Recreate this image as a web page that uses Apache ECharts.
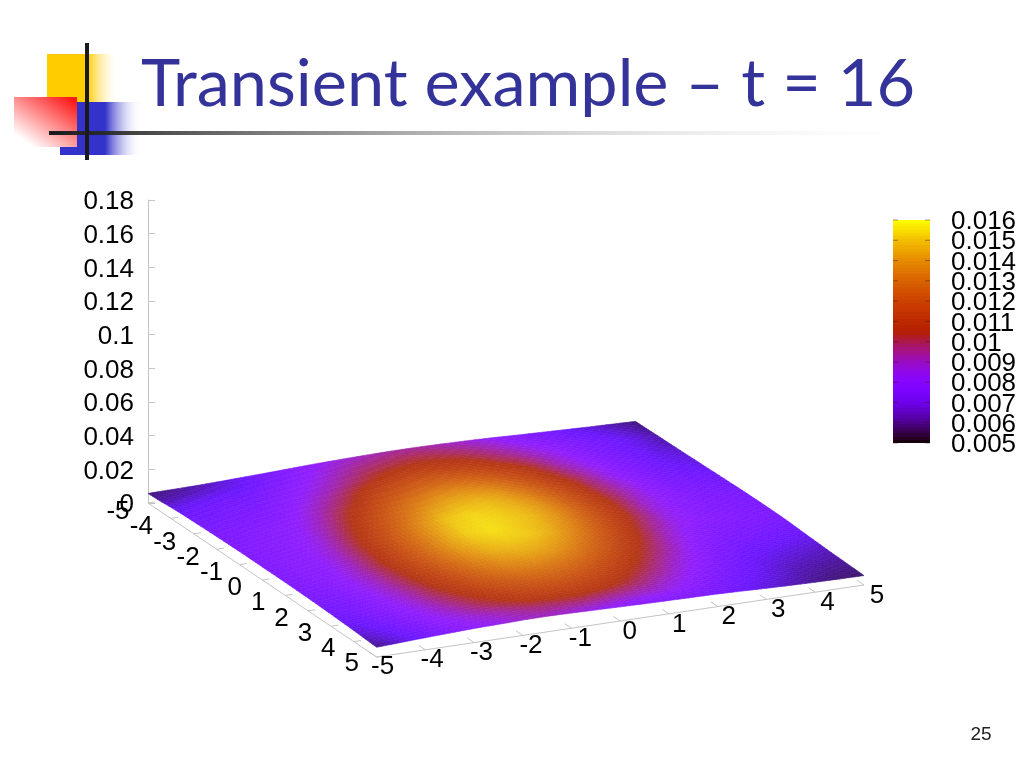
<!DOCTYPE html>
<html>
<head>
<meta charset="utf-8">
<style>html,body{margin:0;padding:0;background:#fff}#c{width:1024px;height:768px}</style>
<script src="https://cdn.jsdelivr.net/npm/echarts@6/dist/echarts.min.js"></script>
</head>
<body>
<div id="c"></div>
<script>
var titleText = 'Transient example – t = 16';
var pageNumber = '25';
var zRange = [0, 0.18];
var zInterval = 0.02;
var zTickLabels = ['0','0.02','0.04','0.06','0.08','0.1','0.12','0.14','0.16','0.18'];
var zTickValues = [0,0.02,0.04,0.06,0.08,0.1,0.12,0.14,0.16,0.18];
var colorRange = [0.005, 0.016];
var colorTickLabels = ['0.005','0.006','0.007','0.008','0.009','0.01','0.011','0.012','0.013','0.014','0.015','0.016'];
var colorTickValues = [0.005,0.006,0.007,0.008,0.009,0.01,0.011,0.012,0.013,0.014,0.015,0.016];
var aTicks = [-5,-4,-3,-2,-1,0,1,2,3,4,5];
var bTicks = [-5,-4,-3,-2,-1,0,1,2,3,4,5];
var gridAxis = [-5,-4.5,-4,-3.5,-3,-2.5,-2,-1.5,-1,-0.5,0,0.5,1,1.5,2,2.5,3,3.5,4,4.5,5];
var zUnit = 0.0001;
// surface height; rows run along a, columns along b
var surfaceZ = [
[57,59,61,65,70,75,81,86,90,93,95,95,93,90,86,80,75,70,65,61,57],
[60,62,65,68,72,78,84,90,95,98,100,100,98,95,90,84,78,73,69,64,59],
[66,69,71,72,77,82,88,94,100,103,105,105,103,99,94,88,82,77,72,67,61],
[70,72,74,75,80,86,92,99,105,110,112,111,109,103,98,91,84,77,72,67,62],
[72,74,76,78,83,90,98,106,113,118,120,119,115,109,102,93,86,79,73,68,64],
[74,76,78,80,87,95,103,113,120,125,127,126,121,114,105,96,88,80,74,69,66],
[76,78,80,83,90,100,109,119,127,133,135,133,127,118,108,99,89,81,75,71,68],
[77,79,81,85,94,104,115,125,134,140,141,139,131,122,111,100,91,83,76,73,70],
[78,80,83,87,97,108,119,130,140,145,146,142,135,124,113,101,92,83,77,74,72],
[78,80,83,89,100,111,123,135,146,150,148,144,137,125,113,102,91,84,79,76,74],
[78,81,84,91,102,114,126,138,148,151,149,145,137,125,113,101,90,83,79,77,75],
[78,81,84,92,103,115,127,139,149,152,148,144,135,123,111,100,89,83,79,77,76],
[78,81,84,93,104,116,127,139,146,149,148,142,132,120,108,97,88,83,80,78,76],
[77,80,85,93,103,115,126,136,143,145,143,137,127,116,105,94,85,80,78,77,75],
[76,78,84,92,102,113,123,132,138,140,138,131,122,111,101,91,83,78,76,74,72],
[74,76,83,91,100,110,119,127,132,133,130,124,116,106,97,88,80,75,73,71,68],
[72,76,82,89,98,106,115,121,125,126,123,117,109,101,92,85,77,72,69,67,65],
[69,74,80,87,95,102,109,115,118,118,115,110,103,96,88,81,75,69,66,64,62],
[66,71,78,85,91,98,103,108,110,110,107,103,97,90,84,77,72,67,63,61,60],
[62,68,75,82,87,91,95,98,99,99,96,93,90,86,79,74,69,65,61,59,58],
[58,65,72,78,84,87,91,92,90,87,84,81,79,77,75,71,66,62,59,57,56]
];

// gnuplot default pm3d palette (7,5,15); lift = small green floor seen on the surface
function palette(z, lift) {
  var g = Math.max(0, Math.min(1, (z - colorRange[0]) / (colorRange[1] - colorRange[0])));
  var r = Math.sqrt(g), gg = g * g * g, b = Math.max(0, Math.sin(2 * Math.PI * g));
  return 'rgb(' + Math.round(r * 255) + ',' + Math.min(255, Math.round(gg * 255) + (lift || 0)) + ',' + Math.min(255, Math.round(b * 255) + (lift || 0)) + ')';
}

// orthographic view of (a, b, z) onto the plot's own x (0..1) and z axes
var viewAX = 0.03189, viewBX = 0.06797, viewAZ = -0.00915, viewBZ = 0.00428;
function project(a, b, z) {
  return [(a + 5) * viewAX + (b + 5) * viewBX, z + (a + 5) * viewAZ + (b + 5) * viewBZ];
}

var cells = [];
for (var ci = 0; ci < gridAxis.length - 1; ci++)
  for (var cj = 0; cj < gridAxis.length - 1; cj++) cells.push([ci, cj]);

var SHADE = 5; // render-time smooth shading steps per data cell (like pm3d interpolate)
function renderCell(params, api) {
  var c = cells[params.dataIndex], i = c[0], j = c[1];
  var z00 = surfaceZ[i][j] * zUnit, z01 = surfaceZ[i][j + 1] * zUnit,
      z10 = surfaceZ[i + 1][j] * zUnit, z11 = surfaceZ[i + 1][j + 1] * zUnit;
  var a0 = gridAxis[i], a1 = gridAxis[i + 1], b0 = gridAxis[j], b1 = gridAxis[j + 1];
  function at(u, v) {
    return (z00 * (1 - u) + z10 * u) * (1 - v) + (z01 * (1 - u) + z11 * u) * v;
  }
  function pt(u, v) {
    return api.coord(project(a0 + (a1 - a0) * u, b0 + (b1 - b0) * v, at(u, v)));
  }
  var kids = [];
  for (var m = 0; m < SHADE; m++) for (var n = 0; n < SHADE; n++) {
    var u0 = m / SHADE, u1 = (m + 1) / SHADE, v0 = n / SHADE, v1 = (n + 1) / SHADE;
    var col = palette(at((u0 + u1) / 2, (v0 + v1) / 2), 22);
    kids.push({type: 'polygon', shape: {points: [pt(u0, v0), pt(u1, v0), pt(u1, v1), pt(u0, v1)]},
      style: {fill: col, stroke: col, lineWidth: 0.6}});
  }
  return {type: 'group', children: kids};
}

var axisGray = '#c4c4c4';
var labelFont = '26px "Liberation Sans", Arial, sans-serif';
function labelText(x, y, text, align) {
  return {type: 'text', x: x, y: y, style: {text: text, font: labelFont, fill: '#000', align: align || 'center', verticalAlign: 'middle'}};
}
function renderATick(params, api) {
  var a = aTicks[params.dataIndex];
  var p = api.coord(project(a, -5, 0)), q = api.coord(project(a, -4.85, 0));
  var kids = [{type: 'line', shape: {x1: p[0], y1: p[1], x2: q[0], y2: q[1]}, style: {stroke: axisGray, lineWidth: 1}},
    labelText(p[0] - 30 + (a + 5) * 0.5, p[1] + 9 - (a + 5) * 0.2, String(a))];
  if (params.dataIndex === 0) {
    var e = api.coord(project(5, -5, 0));
    kids.unshift({type: 'line', shape: {x1: p[0], y1: p[1], x2: e[0], y2: e[1]}, style: {stroke: axisGray, lineWidth: 1}});
  }
  return {type: 'group', children: kids};
}
function renderBTick(params, api) {
  var b = bTicks[params.dataIndex];
  var p = api.coord(project(5, b, 0)), q = api.coord(project(4.7, b, 0));
  var kids = [{type: 'line', shape: {x1: p[0], y1: p[1], x2: q[0], y2: q[1]}, style: {stroke: axisGray, lineWidth: 1}},
    labelText(p[0] + 6 + (b + 5) * 0.7, p[1] + 10 + (b + 5) * 0.1, String(b))];
  if (params.dataIndex === 0) {
    var e = api.coord(project(5, 5, 0));
    kids.unshift({type: 'line', shape: {x1: p[0], y1: p[1], x2: e[0], y2: e[1]}, style: {stroke: axisGray, lineWidth: 1}});
  }
  return {type: 'group', children: kids};
}
function renderZLabel(params, api) {
  var p = api.coord([0, zTickValues[params.dataIndex]]);
  return labelText(p[0] - 14, p[1] + 2, zTickLabels[params.dataIndex], 'right');
}
function renderColorBar(params, api) {
  var top = api.coord([0, colorRange[1]]), bot = api.coord([1, colorRange[0]]);
  var stops = [], N = 70;
  for (var k = 0; k < N; k++) {
    var col = palette(colorRange[1] - (colorRange[1] - colorRange[0]) * (k + 0.5) / N);
    stops.push({offset: k / N, color: col}, {offset: (k + 1) / N, color: col});
  }
  var kids = [{type: 'rect', shape: {x: top[0], y: top[1], width: bot[0] - top[0], height: bot[1] - top[1]},
    style: {fill: new echarts.graphic.LinearGradient(0, 0, 0, 1, stops)}}];
  colorTickValues.forEach(function (t, idx) {
    var y = api.coord([0, t])[1];
    [[top[0], top[0] + 5], [bot[0] - 5, bot[0]]].forEach(function (s) {
      kids.push({type: 'line', shape: {x1: s[0], y1: y, x2: s[1], y2: y}, style: {stroke: 'rgba(50,25,0,0.45)', lineWidth: 1}});
    });
    kids.push(labelText(bot[0] + 21, y + 2, colorTickLabels[idx], 'left'));
  });
  return {type: 'group', children: kids};
}

function fade(from, to) { return new echarts.graphic.LinearGradient(0, 0, 1, 0, [{offset: 0, color: from}, {offset: 0.55, color: from}, {offset: 1, color: to}]); }

var chart = echarts.init(document.getElementById('c'), null, {renderer: 'canvas'});
chart.setOption({
  animation: false,
  backgroundColor: '#fff',
  textStyle: {fontFamily: '"Liberation Sans", Arial, sans-serif'},
  title: {text: titleText, left: 136, top: 46,
    textStyle: {fontFamily: 'Lato, sans-serif', fontWeight: 'normal', fontSize: 66.6, color: '#333399'}},
  graphic: [
    {type: 'rect', z: 1, shape: {x: 47, y: 54, width: 73, height: 50}, style: {fill: fade('#ffcc00', 'rgba(255,255,255,0)')}},
    {type: 'rect', z: 2, shape: {x: 60, y: 102, width: 82, height: 53}, style: {fill: fade('#3333cc', 'rgba(255,255,255,0)')}},
    {type: 'rect', z: 3, shape: {x: 14, y: 97, width: 63, height: 50},
     style: {fill: new echarts.graphic.LinearGradient(0.85, 0, 0.3, 1, [{offset: 0, color: '#ff1a1a'}, {offset: 1, color: '#ffffff'}])}},
    {type: 'rect', z: 4, shape: {x: 49, y: 131, width: 900, height: 4},
     style: {fill: new echarts.graphic.LinearGradient(0, 0, 1, 0, [{offset: 0, color: '#1a1a1a'}, {offset: 1, color: 'rgba(255,255,255,0)'}])}},
    {type: 'rect', z: 5, shape: {x: 85, y: 43, width: 4, height: 117}, style: {fill: '#1a1a1a'}},
    {type: 'text', z: 5, x: 981, y: 735, style: {text: pageNumber, font: '19px "Liberation Sans", Arial, sans-serif', fill: '#222', align: 'center', verticalAlign: 'middle'}}
  ],
  grid: [
    {left: 148, top: 200, width: 717, height: 303},
    {left: 893, top: 220, width: 37, height: 223}
  ],
  xAxis: [
    {gridIndex: 0, type: 'value', min: 0, max: 1, show: false},
    {gridIndex: 1, type: 'value', min: 0, max: 1, show: false}
  ],
  yAxis: [
    {gridIndex: 0, type: 'value', min: zRange[0], max: zRange[1], interval: zInterval, splitLine: {show: false},
     axisLine: {show: true, lineStyle: {color: axisGray, width: 1}},
     axisTick: {show: true, inside: true, length: 7, lineStyle: {color: axisGray}},
     axisLabel: {show: false}},
    {gridIndex: 1, type: 'value', position: 'right', min: colorRange[0], max: colorRange[1], splitLine: {show: false},
     axisLine: {show: false}, axisTick: {show: false}, axisLabel: {show: false}}
  ],
  series: [
    {type: 'custom', xAxisIndex: 0, yAxisIndex: 0, data: zTickValues, renderItem: renderZLabel, clip: false, silent: true, z: 2},
    {type: 'custom', xAxisIndex: 0, yAxisIndex: 0, data: aTicks, renderItem: renderATick, clip: false, silent: true, z: 2, progressive: 0},
    {type: 'custom', xAxisIndex: 0, yAxisIndex: 0, data: bTicks, renderItem: renderBTick, clip: false, silent: true, z: 2, progressive: 0},
    {type: 'custom', xAxisIndex: 0, yAxisIndex: 0, data: cells, renderItem: renderCell, clip: false, silent: true, z: 3, progressive: 0},
    {type: 'custom', xAxisIndex: 1, yAxisIndex: 1, data: [colorRange], renderItem: renderColorBar, clip: false, silent: true, z: 3}
  ]
});
</script>
</body>
</html>
